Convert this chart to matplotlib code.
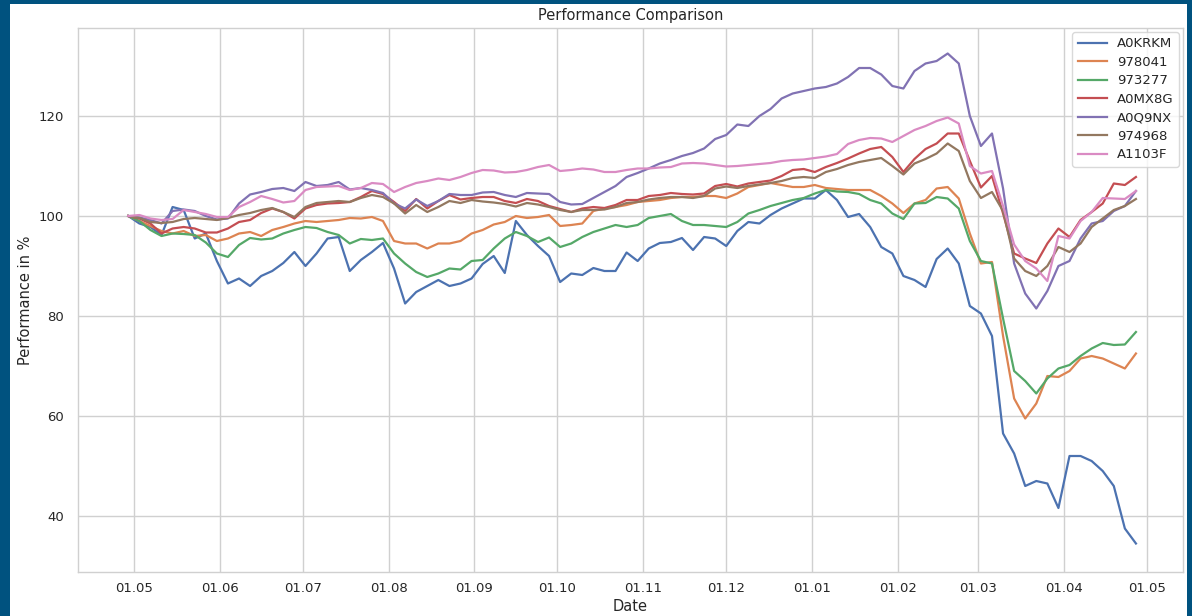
import numpy as np
import pandas as pd
import matplotlib
matplotlib.use('Agg')
import matplotlib.pyplot as plt
import matplotlib.dates as mdates
from matplotlib.patches import Rectangle

# sample dates, every 4 days
dates = pd.date_range('2019-04-29', periods=92, freq='4D')

names = ['A0KRKM', '978041', '973277', 'A0MX8G', 'A0Q9NX', '974968', 'A1103F']

a0krkm = [100, 98.5, 97.8, 96.2, 101.8, 101.2, 95.5, 96.5, 91, 86.5,
          87.5, 86, 88, 89, 90.6, 92.8, 90, 92.5, 95.5, 95.8,
          89, 91.2, 92.8, 94.6, 89.5, 82.5, 84.8, 86, 87.2, 86,
          86.5, 87.5, 90.4, 92, 88.6, 99, 96.2, 94, 92, 86.8,
          88.5, 88.2, 89.6, 89, 89, 92.7, 91, 93.5, 94.6, 94.8,
          95.6, 93.2, 95.8, 95.5, 94, 97, 98.8, 98.5, 100.2, 101.5,
          102.5, 103.5, 103.5, 105.2, 103.2, 99.8, 100.4, 97.8, 93.8, 92.5,
          88, 87.2, 85.8, 91.4, 93.5, 90.5, 82, 80.5, 76, 56.5,
          52.5, 46, 47, 46.5, 41.6, 52, 52, 51, 49, 46,
          37.5, 34.5]
s978041 = [100, 99, 98, 97, 96.5, 97, 96, 96.2, 95, 95.5,
           96.5, 96.8, 96, 97.2, 97.8, 98.5, 99, 98.8, 99, 99.2,
           99.6, 99.5, 99.8, 99, 95, 94.5, 94.5, 93.5, 94.5, 94.5,
           95, 96.5, 97.2, 98.3, 98.8, 100, 99.6, 99.8, 100.2, 98,
           98.2, 98.5, 101, 101.5, 101.8, 102.2, 102.8, 103, 103.2, 103.6,
           103.8, 103.8, 104, 104, 103.6, 104.5, 105.8, 106.2, 106.6, 106.2,
           105.8, 105.8, 106.2, 105.6, 105.4, 105.2, 105.2, 105.2, 104, 102.5,
           100.6, 102.5, 103.2, 105.5, 105.8, 103.5, 96.5, 90.5, 90.8, 76,
           63.5, 59.5, 62.5, 68, 67.8, 69, 71.5, 72, 71.5, 70.5,
           69.5, 72.5]
s973277 = [100, 99, 97.2, 96, 96.5, 96.4, 96.2, 94.7, 92.5, 91.8,
           94.2, 95.6, 95.3, 95.5, 96.5, 97.2, 97.8, 97.6, 96.8, 96.2,
           94.5, 95.4, 95.2, 95.5, 92.5, 90.5, 88.8, 87.8, 88.5, 89.5,
           89.3, 91, 91.2, 93.5, 95.5, 96.8, 96, 94.8, 95.7, 93.8,
           94.5, 95.8, 96.8, 97.5, 98.2, 97.8, 98.2, 99.6, 100, 100.4,
           99, 98.2, 98.2, 98, 97.8, 98.8, 100.5, 101.2, 102, 102.6,
           103.2, 103.6, 104.5, 105.2, 104.9, 104.8, 104.4, 103.2, 102.5, 100.5,
           99.4, 102.5, 102.6, 103.8, 103.5, 101.5, 95, 91, 90.5, 79.5,
           69, 67, 64.5, 67.5, 69.5, 70.2, 72, 73.5, 74.6, 74.2,
           74.3, 76.8]
a0mx8g = [100, 99.5, 98.5, 96.5, 97.5, 97.8, 97.5, 96.7, 96.7, 97.5,
          98.8, 99.2, 100.6, 101.5, 100.8, 99.5, 101.5, 102.2, 102.5, 102.6,
          102.8, 103.8, 105, 104.4, 102.8, 101, 103.4, 101.5, 103, 104.2,
          103.3, 103.6, 103.8, 103.8, 103, 102.6, 103.4, 103, 102, 101.4,
          100.8, 101.5, 101.8, 101.6, 102.2, 103.2, 103.2, 104, 104.2, 104.6,
          104.4, 104.3, 104.5, 106, 106.4, 105.9, 106.5, 106.8, 107.1, 108,
          109.2, 109.4, 108.8, 109.8, 110.6, 111.5, 112.5, 113.4, 113.8, 111.8,
          108.8, 111.4, 113.4, 114.5, 116.5, 116.5, 111, 105.7, 108, 100.5,
          92.5, 91.5, 90.6, 94.5, 97.5, 95.8, 99.2, 100.8, 102.5, 106.5,
          106.2, 107.8]
a0q9nx = [100, 99.7, 99.2, 98.5, 101, 101.3, 101, 100, 99.3, 99.5,
          102.5, 104.3, 104.8, 105.4, 105.6, 105, 106.8, 106, 106.2, 106.8,
          105.3, 105.6, 105.2, 104.6, 102.5, 101.5, 103.3, 102, 103, 104.4,
          104.2, 104.2, 104.7, 104.8, 104.2, 103.8, 104.6, 104.5, 104.4, 102.8,
          102.3, 102.4, 103.6, 104.8, 106, 107.8, 108.6, 109.5, 110.5, 111.2,
          112, 112.6, 113.5, 115.4, 116.2, 118.3, 118, 120, 121.4, 123.5,
          124.5, 125, 125.5, 125.8, 126.5, 127.8, 129.6, 129.6, 128.3, 126,
          125.5, 129, 130.5, 131, 132.5, 130.5, 120, 114, 116.5, 105.5,
          90.5, 84.5, 81.5, 85, 90, 91, 95.5, 98.5, 99, 101,
          102, 105]
s974968 = [100, 99.6, 98.8, 98.6, 98.8, 99.4, 99.6, 99.4, 99.2, 99.6,
           100.2, 100.6, 101.2, 101.6, 100.8, 99.8, 101.8, 102.6, 102.8, 103,
           102.8, 103.6, 104.2, 103.8, 102.5, 100.5, 102.2, 100.8, 101.8, 103,
           102.6, 103.2, 102.9, 102.7, 102.4, 101.9, 102.6, 102.3, 101.8, 101.2,
           100.8, 101.2, 101.2, 101.3, 101.8, 102.6, 102.8, 103.3, 103.6, 103.8,
           103.8, 103.6, 104, 105.5, 105.9, 105.6, 106, 106.3, 106.6, 107,
           107.6, 107.8, 107.6, 108.8, 109.4, 110.2, 110.8, 111.2, 111.6, 110,
           108.3, 110.5, 111.4, 112.5, 114.5, 113, 107, 103.6, 104.8, 101,
           91.5, 89, 88, 90, 93.8, 92.8, 94.5, 97.8, 99.5, 101.2,
           102, 103.4]
a1103f = [100, 100.2, 99.5, 99.2, 99.4, 101.2, 100.8, 100.4, 99.8, 99.8,
          101.8, 102.8, 104, 103.4, 102.7, 103, 105.2, 105.8, 105.9, 106,
          105.2, 105.6, 106.6, 106.4, 104.8, 105.8, 106.6, 107, 107.5, 107.2,
          107.8, 108.6, 109.2, 109.1, 108.7, 108.8, 109.2, 109.8, 110.2, 109,
          109.2, 109.5, 109.3, 108.8, 108.8, 109.2, 109.5, 109.5, 109.7, 109.8,
          110.5, 110.6, 110.5, 110.2, 109.9, 110, 110.2, 110.4, 110.6, 111,
          111.2, 111.3, 111.6, 111.9, 112.4, 114.4, 115.2, 115.6, 115.5, 114.8,
          116, 117.2, 118, 119, 119.7, 118.5, 110, 108.5, 109, 102,
          94.3, 91, 89.5, 87, 96, 95.5, 99, 100.8, 103.6, 103.5,
          103.4, 105]

series = [a0krkm, s978041, s973277, a0mx8g, a0q9nx, s974968, a1103f]
colors = ['#4C72B0', '#DD8452', '#55A868', '#C44E52', '#8172B3', '#937860', '#DA8BC3']

text_col = '#262626'
grid_col = '#d0d0d0'

fig = plt.figure(figsize=(11.92, 6.16), dpi=100, facecolor='#00527f')
# white page inside the blue frame, kept behind the axes
fig.patches.append(Rectangle((10/1192, 0), (1187-10)/1192, 612/616,
                             transform=fig.transFigure, facecolor='white',
                             edgecolor='none', zorder=-10))

ax = fig.add_axes([78/1192, (616-572)/616, (1183-78)/1192, (572-28)/616])
ax.set_facecolor('white')

for vals, name, c in zip(series, names, colors):
    ax.plot(dates, vals, color=c, lw=1.6, label=name)

ax.set_xlim(pd.Timestamp('2019-04-10 20:00'), pd.Timestamp('2020-05-14'))
ax.set_ylim(28.8, 137.6)
ax.set_yticks([40, 60, 80, 100, 120])
ax.xaxis.set_major_locator(mdates.MonthLocator())
ax.xaxis.set_major_formatter(mdates.DateFormatter('%d.%m'))

ax.grid(True, color=grid_col, lw=1)
ax.set_axisbelow(True)
for sp in ax.spines.values():
    sp.set_color(grid_col)
    sp.set_linewidth(1)
ax.tick_params(length=0, labelsize=9.5, colors=text_col)
ax.tick_params(axis='y', pad=10)
ax.tick_params(axis='x', pad=7)

ax.set_title('Performance Comparison', fontsize=10.5, color=text_col, pad=6)
ax.set_xlabel('Date', fontsize=10.5, color=text_col, labelpad=3)
ax.set_ylabel('Performance in %', fontsize=10.5, color=text_col, labelpad=4)

leg = ax.legend(loc='upper right', fontsize=9.5, frameon=True,
                handlelength=2.2, labelspacing=0.42, borderaxespad=0.3)
leg.get_frame().set_edgecolor(grid_col)
for t in leg.get_texts():
    t.set_color(text_col)

fig.savefig('out.png', dpi=100)
